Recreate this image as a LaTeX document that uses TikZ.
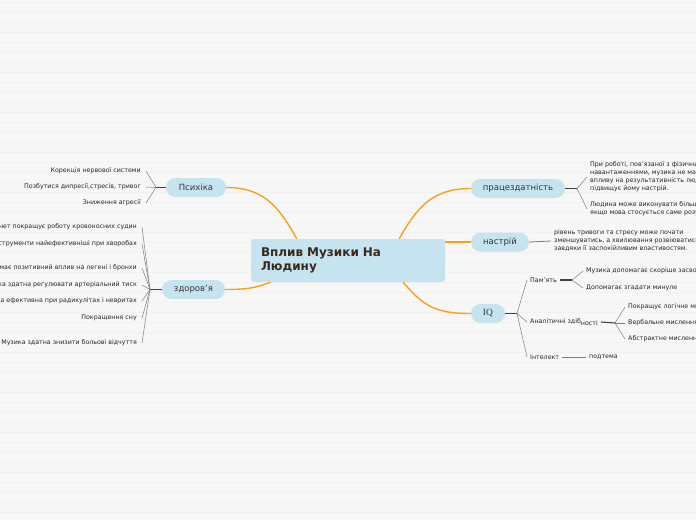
\documentclass[tikz,border=0pt]{standalone}
\usepackage{fontspec}
\setmainfont{DejaVu Sans}
\newfontfamily\iqfont{Liberation Serif}

\definecolor{bgcol}{RGB}{247,247,247}
\definecolor{stripecol}{RGB}{241,241,241}
\definecolor{pillcol}{RGB}{198,228,240}
\definecolor{branchcol}{RGB}{250,160,25}
\definecolor{fancol}{RGB}{125,125,125}
\definecolor{rootink}{RGB}{58,40,28}

\begin{document}
\begin{tikzpicture}[x=1pt,y=-1pt,
  root/.style={fill=pillcol, rounded corners=3pt, minimum width=194pt, minimum height=43pt,
    text width=174pt, align=left, inner xsep=10pt, text=rootink,
    font=\fontsize{12}{14}\selectfont\bfseries},
  pill/.style={fill=pillcol, rounded corners=9.5pt, minimum height=19pt, inner sep=0pt,
    text=black!80, font=\fontsize{8.5}{10}\selectfont},
  leaf/.style={text=black!85, inner xsep=3pt, inner ysep=1pt, align=left,
    font=\fontsize{6.3}{8}\selectfont},
  orangeline/.style={draw=branchcol, line width=1.4pt},
  fanline/.style={draw=fancol, line width=0.5pt},
  stubline/.style={draw=black!75, line width=1.1pt}]

  % background
  \clip (0,0) rectangle (696,520);
  \fill[bgcol] (0,0) rectangle (696,520);
  \foreach \y in {2,12,...,520}
    \fill[stripecol] (0,\y) rectangle (696,\y+1.2);

  % central topic and main branches
  \node[root] (root) at (348,260.5) {Вплив Музики На\\Людину};
  \node[pill, minimum width=60pt] (psy) at (196,187.5) {Психіка};
  \node[pill, minimum width=63pt] (hlth) at (193.5,289.5) {здоров’я};
  \node[pill, minimum width=94pt] (work) at (518,188.5) {працездатність};
  \node[pill, minimum width=58pt] (mood) at (500,242) {настрій};
  \node[pill, minimum width=34pt, font=\iqfont\fontsize{9.5}{10}\selectfont] (iq) at (488,313.5) {IQ};

  \draw[orangeline] (psy.east) .. controls +(38,0) and +(-18,-32) .. ([xshift=46pt]root.north west);
  \draw[orangeline] (hlth.east) .. controls +(28,0) and +(-12,4) .. ([xshift=20pt]root.south west);
  \draw[orangeline] ([xshift=-46pt]root.north east) .. controls +(18,-32) and +(-38,0) .. (work.west);
  \draw[orangeline] (root.east |- mood.west) -- (mood.west);
  \draw[orangeline] ([xshift=-42pt]root.south east) .. controls +(20,24) and +(-35,0) .. (iq.west);

  % Психіка
  \coordinate (psyfork) at (156,187.5);
  \draw[stubline] (psy.west) -- (psyfork);
  \node[leaf, anchor=east, inner xsep=5pt] (psy1) at (146,171) {Корекція нервової системи};
  \node[leaf, anchor=east, inner xsep=5pt] (psy2) at (146,187) {Позбутися дипресії,стресів, тривог};
  \node[leaf, anchor=east, inner xsep=5pt] (psy3) at (146,203) {Зниження агресії};
  \foreach \n in {psy1,psy2,psy3}
    \draw[fanline] (psyfork) -- (\n.east);

  % здоров'я
  \coordinate (hlthfork) at (150,289.5);
  \draw[stubline] (hlth.west) -- (hlthfork);
  \node[leaf, anchor=east, inner xsep=5pt] (h1) at (142,227) {Кларнет покращує роботу кровоносних судин};
  \node[leaf, anchor=east, inner xsep=5pt] (h2) at (142,244) {Духові інструменти найефективніші при хворобах};
  \node[leaf, anchor=east, inner xsep=5pt] (h3) at (142,268) {Музика має позитивний вплив на легені і бронхи};
  \node[leaf, anchor=east, inner xsep=5pt] (h4) at (142,285) {Музика здатна регулювати артеріальний тиск};
  \node[leaf, anchor=east, inner xsep=5pt] (h5) at (142,301) {Музика ефективна при радикулітах і невритах};
  \node[leaf, anchor=east, inner xsep=5pt] (h6) at (142,318) {Покращення сну};
  \node[leaf, anchor=east, inner xsep=5pt] (h7) at (142,343) {Музика здатна знизити больові відчуття};
  \foreach \n in {h1,h2,h3,h4,h5,h6,h7}
    \draw[fanline] (hlthfork) -- (\n.east);

  % працездатність
  \coordinate (workfork) at (577,188.5);
  \draw[stubline] (work.east) -- (workfork);
  \node[leaf, anchor=west] (w1) at (587,177) {При роботі, пов'язаної з фізичними\\навантаженнями, музика не має\\впливу на результативність людини, але\\підвищує йому настрій.};
  \node[leaf, anchor=west] (w2) at (587,209) {Людина може виконувати більше роботи,\\якщо мова стосується саме розумової праці.};
  \draw[fanline] (workfork) -- (w1.west);
  \draw[fanline] (workfork) -- (w2.west);

  % настрій
  \node[leaf, anchor=west] (m1) at (551,241) {рівень тривоги та стресу може почати\\зменшуватись, а хвилювання розвіюватись\\завдяки її заспокійливим властивостям.};
  \draw[fanline, line width=0.8pt] (mood.east) -- (m1.west);

  % IQ
  \coordinate (iqfork) at (517,313.5);
  \draw[stubline] (iq.east) -- (iqfork);
  \node[leaf, anchor=west] (mem) at (527,280) {Пам'ять};
  \node[leaf, anchor=west] (anal) at (527,322) {Аналітичні здіб\raisebox{-2pt}{ності}};
  \node[leaf, anchor=west] (intl) at (527,357) {Інтелект};
  \foreach \n in {mem,anal,intl}
    \draw[fanline] (iqfork) -- (\n.west);

  \coordinate (memfork) at (572,280);
  \draw[stubline] (mem.east) -- (memfork);
  \node[leaf, anchor=west] (mem1) at (583,271) {Музика допомагає скоріше засвоювати інформацію};
  \node[leaf, anchor=west] (mem2) at (583,288) {Допомагає згадати минуле};
  \foreach \n in {mem1,mem2}
    \draw[fanline] (memfork) -- (\n.west);

  \coordinate (analfork) at (615,323);
  \draw[stubline] (anal.east) -- (analfork);
  \node[leaf, anchor=west] (an1) at (625,307) {Покращує логічне мислення};
  \node[leaf, anchor=west] (an2) at (625,323) {Вербальне мислення};
  \node[leaf, anchor=west] (an3) at (625,339) {Абстрактне мислення};
  \foreach \n in {an1,an2,an3}
    \draw[fanline] (analfork) -- (\n.west);

  \node[leaf, anchor=west] (sub) at (586,357) {подтема};
  \draw[fanline, line width=0.8pt] (intl.east) -- (sub.west);

\end{tikzpicture}
\end{document}
